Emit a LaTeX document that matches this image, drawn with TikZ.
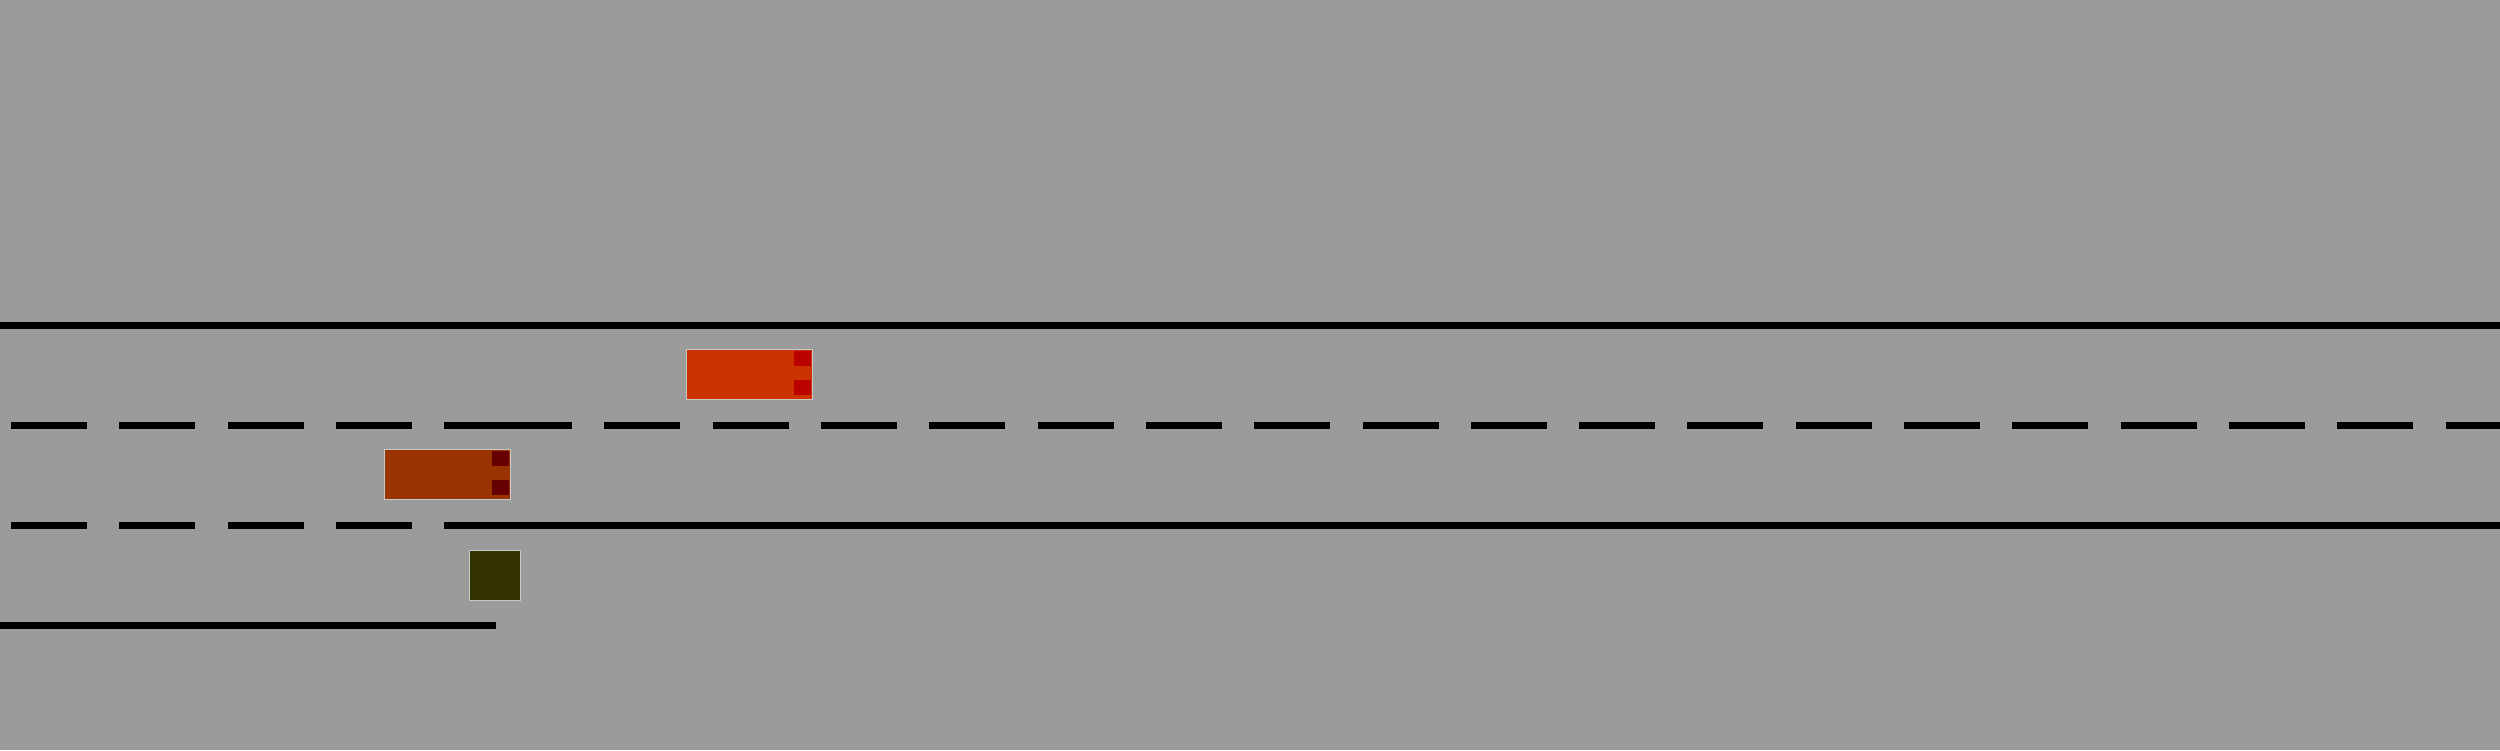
\documentclass[tikz,border=0pt]{standalone}
\definecolor{bg}{RGB}{155,155,155}
\definecolor{rim}{RGB}{200,200,200}
\definecolor{carA}{RGB}{204,51,0}
\definecolor{lightA}{RGB}{187,0,0}
\definecolor{carB}{RGB}{153,51,0}
\definecolor{lightB}{RGB}{102,0,0}
\definecolor{boxC}{RGB}{51,51,0}
\tikzset{
  lane/.style={line width=0.07cm, black},
  broken/.style={lane, dash pattern=on 0.76cm off 0.3225cm},
  vehicle/.style={draw=rim, line width=0.01cm, inner sep=0pt, outer sep=0pt, minimum width=1.25cm, minimum height=0.5cm},
  lamp/.style={inner sep=0pt, outer sep=0pt, minimum width=0.17cm, minimum height=0.15cm},
  block/.style={draw=rim, line width=0.01cm, inner sep=0pt, outer sep=0pt, minimum size=0.5cm, fill=boxC}
}
\begin{document}
\begin{tikzpicture}[x=0.01cm,y=-0.01cm]
\fill[bg] (0,0) rectangle (2500,750);
\useasboundingbox (0,0) rectangle (2500,750);
% lane markings
\coordinate (t0) at (0,325.5);
\coordinate (t1) at (2500,325.5);
\coordinate (m0) at (0,425.5);
\coordinate (mj) at (496,425.5);
\coordinate (m1) at (2500,425.5);
\coordinate (b0) at (0,525.5);
\coordinate (bj) at (496,525.5);
\coordinate (b1) at (2500,525.5);
\coordinate (s0) at (0,625.5);
\coordinate (s1) at (496,625.5);
\draw[lane] (t0) -- (t1);
\draw[broken, dash phase=0.9725cm] (m0) -- (mj);
\draw[broken] (mj) -- (m1);
\draw[broken, dash phase=0.9725cm] (b0) -- (bj);
\draw[lane] (bj) -- (b1);
\draw[lane] (s0) -- (s1);
% vehicles
\node[vehicle, fill=carA] (car1) at (749.5,374) {};
\node[lamp, fill=lightA] (car1l1) at (802.5,358.5) {};
\node[lamp, fill=lightA] (car1l2) at (802.5,387.5) {};
\node[vehicle, fill=carB] (car2) at (447.5,474) {};
\node[lamp, fill=lightB] (car2l1) at (500.5,458.5) {};
\node[lamp, fill=lightB] (car2l2) at (500.5,487.5) {};
\node[block] (obj) at (495,575) {};
\end{tikzpicture}
\end{document}
